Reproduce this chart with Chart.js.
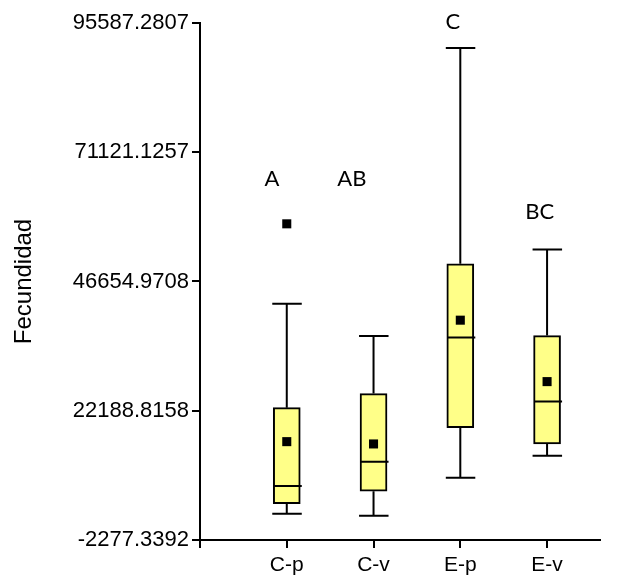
<!DOCTYPE html>
<html>
<head>
<meta charset="utf-8">
<script src="https://cdn.jsdelivr.net/npm/chart.js@4.4.1/dist/chart.umd.min.js"></script>
<style>
html,body{margin:0;padding:0;background:#fff;}
#wrap{width:626px;height:579px;}
</style>
</head>
<body>
<div id="wrap"><canvas id="c" width="626" height="579"></canvas></div>
<script>
// ---- data ----
const categories = ['C-p', 'C-v', 'E-p', 'E-v'];
const whiskerMin = [2704, 2325, 9522, 13689];
const q1 = [4598, 6946, 18992, 15905];
const median = [7950, 12553, 36038, 23917];
const q3 = [22780, 25432, 49997, 36417];
const whiskerMax = [42421, 36360, 90851, 52706];
const means = [16341, 15905, 39334, 27705];
const outlierGroup = [1];
const outlierValue = [57573];
const groupLetters = ['A', 'AB', 'C', 'BC'];
const letterX = [0.83, 1.75, 2.915, 3.915];
const letterY = [64770, 64770, 94450, 58463];
const xTickValues = [0, 1, 2, 3, 4];
const yTickValues = [-2277.3392, 22188.8158, 46654.9708, 71121.1257, 95587.2807];
const yTickLabels = ['-2277.3392', '22188.8158', '46654.9708', '71121.1257', '95587.2807'];

const positions = categories.map((c, i) => i + 1);

const boxPlugin = {
  id: 'boxExtras',
  afterDatasetDraw(chart, args) {
    if (args.index !== 1) return;
    const ctx = chart.ctx;
    const xs = chart.scales.x, ys = chart.scales.y;
    ctx.save();
    ctx.strokeStyle = '#000';
    ctx.lineWidth = 2;
    positions.forEach((p, i) => {
      const cx = xs.getPixelForValue(p);
      const yMin = ys.getPixelForValue(whiskerMin[i]);
      const yMax = ys.getPixelForValue(whiskerMax[i]);
      const yQ1 = ys.getPixelForValue(q1[i]);
      const yQ3 = ys.getPixelForValue(q3[i]);
      const yMed = ys.getPixelForValue(median[i]);
      ctx.beginPath();
      ctx.moveTo(cx, yQ3); ctx.lineTo(cx, yMax);
      ctx.moveTo(cx - 14.5, yMax); ctx.lineTo(cx + 15, yMax);
      ctx.moveTo(cx, yQ1); ctx.lineTo(cx, yMin);
      ctx.moveTo(cx - 14.5, yMin); ctx.lineTo(cx + 15, yMin);
      ctx.moveTo(cx - 13, yMed); ctx.lineTo(cx + 15, yMed);
      ctx.stroke();
    });
    ctx.restore();
  },
  afterDraw(chart) {
    const ctx = chart.ctx;
    const xs = chart.scales.x, ys = chart.scales.y;
    const area = chart.chartArea;
    ctx.save();
    // x-axis tick marks
    ctx.fillStyle = '#000';
    xTickValues.forEach(v => {
      const px = Math.round(xs.getPixelForValue(v));
      ctx.fillRect(px - 1, area.bottom, 2, 8);
    });
    // group letters
    ctx.font = '22px Lato, "Open Sans", sans-serif';
    ctx.textAlign = 'center';
    ctx.textBaseline = 'alphabetic';
    groupLetters.forEach((t, i) => {
      ctx.fillText(t, xs.getPixelForValue(letterX[i]), ys.getPixelForValue(letterY[i]));
    });
    ctx.restore();
  }
};

new Chart(document.getElementById('c'), {
  type: 'bar',
  data: {
    datasets: [
      {
        type: 'scatter',
        label: 'points',
        data: positions.map((p, i) => ({ x: p, y: means[i] }))
          .concat(outlierGroup.map((g, i) => ({ x: g, y: outlierValue[i] }))),
        pointStyle: 'rect',
        pointRadius: 6.4,
        pointBorderWidth: 0,
        backgroundColor: '#000',
        borderColor: '#000'
      },
      {
        type: 'bar',
        label: 'box',
        data: positions.map((p, i) => ({ x: p, y: [q1[i], q3[i]] })),
        backgroundColor: '#FFFF88',
        borderColor: '#000',
        borderWidth: 2,
        borderSkipped: false,
        barThickness: 27
      }
    ]
  },
  options: {
    responsive: false,
    animation: false,
    devicePixelRatio: 1,
    layout: { padding: { top: 23, right: 26, left: 0, bottom: 0 } },
    plugins: { legend: { display: false }, tooltip: { enabled: false }, title: { display: false } },
    scales: {
      x: {
        type: 'linear',
        min: 0,
        max: 4.61,
        offset: false,
        afterBuildTicks(scale) { scale.ticks = xTickValues.map(v => ({ value: v })); },
        afterFit(scale) { scale.height = 39; },
        ticks: {
          callback: (v) => (v >= 1 && v <= categories.length ? categories[v - 1] : ''),
          font: { family: '"Liberation Sans", Arial, sans-serif', size: 21 },
          color: '#000',
          padding: 5,
          maxRotation: 0,
          autoSkip: false
        },
        grid: { display: false },
        border: { display: true, color: '#000', width: 2 }
      },
      y: {
        type: 'linear',
        min: yTickValues[0],
        max: yTickValues[yTickValues.length - 1],
        afterBuildTicks(scale) { scale.ticks = yTickValues.map(v => ({ value: v })); },
        afterFit(scale) { scale.width = 200; },
        ticks: {
          callback: (v, idx) => yTickLabels[idx],
          font: { family: '"Liberation Sans", Arial, sans-serif', size: 22 },
          color: '#000',
          padding: 3,
          autoSkip: false
        },
        title: {
          display: true,
          text: 'Fecundidad',
          font: { family: '"Liberation Sans", Arial, sans-serif', size: 24 },
          color: '#000',
          padding: { top: 10, bottom: 0 }
        },
        grid: { display: true, drawOnChartArea: false, drawTicks: true, tickLength: 8, color: '#000', lineWidth: 2 },
        border: { display: true, color: '#000', width: 2 }
      }
    }
  },
  plugins: [boxPlugin]
});
</script>
</body>
</html>
